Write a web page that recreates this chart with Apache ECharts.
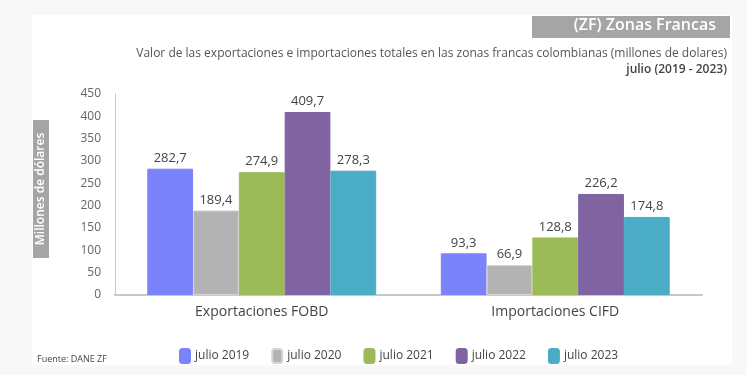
<!DOCTYPE html>
<html>
<head>
<meta charset="utf-8">
<script src="https://cdn.jsdelivr.net/npm/echarts@6/dist/echarts.min.js"></script>
<style>
  html, body { margin: 0; padding: 0; background: #f8f8f8; }
  #main { width: 747px; height: 375px; }
</style>
</head>
<body>
<div id="main"></div>
<script>
var categories = ['Exportaciones FOBD', 'Importaciones CIFD'];
var seriesNames = ['julio 2019', 'julio 2020', 'julio 2021', 'julio 2022', 'julio 2023'];
var v2019 = [282.7, 93.3];
var v2020 = [189.4, 66.9];
var v2021 = [274.9, 128.8];
var v2022 = [409.7, 226.2];
var v2023 = [278.3, 174.8];
var colors = ['#7b83fb', '#b3b3b3', '#9bbb59', '#8064a2', '#4bacc6'];

var chartDom = document.getElementById('main');
var myChart = echarts.init(chartDom);
var font = '"Open Sans", "Noto Sans", sans-serif';

function makeSeries(name, data, i) {
  return {
    name: name,
    type: 'bar',
    data: data,
    barGap: '0%',
    barCategoryGap: '22%',
    itemStyle: {
      color: colors[i],
      borderColor: i === 1 ? '#d6d6d6' : colors[i],
      borderWidth: 1
    },
    label: {
      show: true,
      position: 'top',
      distance: 4,
      color: '#444',
      fontSize: 13,
      fontFamily: font,
      formatter: function (p) {
        return p.value.toFixed(1).replace('.', ',');
      }
    }
  };
}

var option = {
  backgroundColor: '#f8f8f8',
  textStyle: { fontFamily: font },
  graphic: [
    {
      type: 'rect', left: 32, top: 15, z: -10,
      shape: { width: 700, height: 350 },
      style: { fill: '#ffffff' }
    },
    {
      type: 'rect', left: 532, top: 16,
      shape: { width: 198, height: 22 },
      style: { fill: '#a5a5a5' }
    },
    {
      type: 'text', right: 31, top: 17,
      style: { text: '(ZF) Zonas Francas', fill: '#fff', font: '600 16px ' + font }
    },
    {
      type: 'text', right: 20, top: 48,
      style: { text: 'Valor de las exportaciones e importaciones totales en las zonas francas colombianas (millones de dolares)', fill: '#555', font: '12px ' + font }
    },
    {
      type: 'text', right: 20, top: 64,
      style: { text: 'julio (2019 - 2023)', fill: '#444', font: '600 12px ' + font }
    },
    {
      type: 'rect', left: 33, top: 120,
      shape: { width: 16, height: 138 },
      style: { fill: '#a5a5a5' }
    },
    {
      type: 'text', x: 41, y: 189, rotation: Math.PI / 2,
      style: { text: 'Millones de dólares', fill: '#fff', font: '600 12px ' + font, align: 'center', verticalAlign: 'middle' }
    },
    {
      type: 'text', left: 37, top: 355,
      style: { text: 'Fuente: DANE ZF', fill: '#444', font: '9px "Liberation Sans Narrow", ' + font }
    }
  ],
  legend: {
    data: seriesNames,
    left: 174,
    top: 343,
    itemWidth: 10,
    itemHeight: 14,
    itemGap: 22,
    textStyle: { color: '#444', fontSize: 12 }
  },
  grid: { left: 115, right: 45, top: 94, bottom: 80 },
  xAxis: {
    type: 'category',
    data: categories,
    axisLine: { lineStyle: { color: '#c8c8c8', width: 2 } },
    axisTick: { show: false },
    axisLabel: { color: '#444', fontSize: 14, margin: 10 }
  },
  yAxis: {
    type: 'value',
    min: 0,
    max: 450,
    interval: 50,
    axisLine: { show: true, lineStyle: { color: '#c8c8c8' } },
    axisTick: { show: false },
    splitLine: { show: false },
    axisLabel: { color: '#666', fontSize: 12, margin: 14 }
  },
  series: [
    makeSeries(seriesNames[0], v2019, 0),
    makeSeries(seriesNames[1], v2020, 1),
    makeSeries(seriesNames[2], v2021, 2),
    makeSeries(seriesNames[3], v2022, 3),
    makeSeries(seriesNames[4], v2023, 4)
  ]
};

option && myChart.setOption(option);
</script>
</body>
</html>
